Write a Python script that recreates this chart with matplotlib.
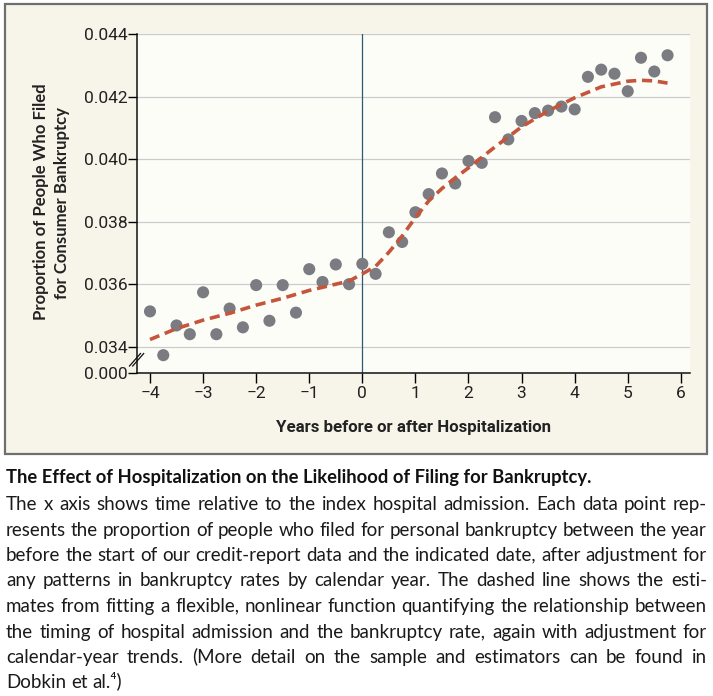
import numpy as np
import matplotlib
matplotlib.use("Agg")
import matplotlib.pyplot as plt
from matplotlib.lines import Line2D
from matplotlib.patches import Rectangle

# data
years = [-4.0, -3.75, -3.5, -3.25, -3.0, -2.75, -2.5, -2.25, -2.0, -1.75,
         -1.5, -1.25, -1.0, -0.75, -0.5, -0.25, 0.0, 0.25, 0.5, 0.75,
         1.0, 1.25, 1.5, 1.75, 2.0, 2.25, 2.5, 2.75, 3.0, 3.25,
         3.5, 3.75, 4.0, 4.25, 4.5, 4.75, 5.0, 5.25, 5.5, 5.75]
share_filed = [0.03513, 0.03373, 0.03468, 0.03440, 0.03574, 0.03440, 0.03522, 0.03462, 0.03597, 0.03483,
               0.03597, 0.03509, 0.03648, 0.03607, 0.03663, 0.03600, 0.03665, 0.03633, 0.03766, 0.03735,
               0.03830, 0.03888, 0.03954, 0.03922, 0.03994, 0.03988, 0.04134, 0.04063, 0.04122, 0.04147,
               0.04155, 0.04168, 0.04159, 0.04263, 0.04286, 0.04273, 0.04217, 0.04324, 0.04280, 0.04332]

fit_years = [-4.0, -3.5, -3.0, -2.5, -2.0, -1.5, -1.0, -0.5, -0.25, 0.0, 0.25, 0.5, 0.75,
             1.0, 1.25, 1.5, 1.75, 2.0, 2.5, 3.0, 3.5, 4.0, 4.5, 5.0, 5.25, 5.5, 5.75]
fit_share = [0.03423, 0.03458, 0.03485, 0.03507, 0.03533, 0.03555, 0.03580, 0.03600, 0.03610, 0.03633,
             0.03657, 0.03702, 0.03754, 0.03813, 0.03866, 0.03906, 0.03940, 0.03972, 0.04039, 0.04103,
             0.04154, 0.04196, 0.04231, 0.04249, 0.04252, 0.04250, 0.04243]

y_ticks = [0.034, 0.036, 0.038, 0.040, 0.042, 0.044]
y_labels = ["0.034", "0.036", "0.038", "0.040", "0.042", "0.044"]
y_bottom = 0.03315          # broken axis, shown as 0.000
y_bottom_label = "0.000"
x_ticks = [-4, -3, -2, -1, 0, 1, 2, 3, 4, 5, 6]
x_labels = ["\u22124", "\u22123", "\u22122", "\u22121", "0", "1", "2", "3", "4", "5", "6"]

title = "The Effect of Hospitalization on the Likelihood of Filing for Bankruptcy."
body = [
    "The x axis shows time relative to the index hospital admission. Each data point rep-",
    "resents the proportion of people who filed for personal bankruptcy between the year",
    "before the start of our credit-report data and the indicated date, after adjustment for",
    "any patterns in bankruptcy rates by calendar year. The dashed line shows the esti-",
    "mates from fitting a flexible, nonlinear function quantifying the relationship between",
    "the timing of hospital admission and the bankruptcy rate, again with adjustment for",
    "calendar-year trends. (More detail on the sample and estimators can be found in",
    "Dobkin et al.\u2074)",
]

W, H = 713, 696
def px(x, y):
    return x / W, 1 - y / H

fig = plt.figure(figsize=(W / 100, H / 100), dpi=100)
fig.patch.set_facecolor("white")
renderer = fig.canvas.get_renderer()

# beige panel
fig.patches.append(Rectangle(px(5, 454), 702 / W, 450 / H, transform=fig.transFigure,
                             facecolor="#f7f5e9", edgecolor="#6e6e6e", lw=1.6, zorder=-1))

ax = fig.add_axes([137 / W, 1 - 373.3 / H, (690 - 137) / W, (373.3 - 34) / H])
ax.set_facecolor("#fdfdf8")
tick_font = ["Roboto", "DejaVu Sans"]

ax.set_xlim(-4.245, 6.173)
ax.set_ylim(y_bottom, 0.044)
ax.set_yticks([y_bottom] + y_ticks, labels=[y_bottom_label] + y_labels)
ax.set_xticks(x_ticks, labels=x_labels)
for lab in ax.get_xticklabels() + ax.get_yticklabels():
    lab.set_fontfamily(tick_font)
    lab.set_color("#222222")
ax.tick_params(axis="y", direction="out", length=6.5, width=1.0, labelsize=12.5, pad=0.5)
ax.tick_params(axis="x", direction="out", length=7, width=1.0, labelsize=12.5, pad=2)
ax.grid(axis="y", color="#cbcbcb", lw=0.9)
ax.set_axisbelow(True)
for side in ["top", "right"]:
    ax.spines[side].set_visible(False)
for side in ["left", "bottom"]:
    ax.spines[side].set_linewidth(1.1)
    ax.spines[side].set_color("#111111")

ax.axvline(0, color="#2c5a72", lw=0.9, zorder=2)
ax.scatter(years, share_filed, s=76, color="#7b7c81", edgecolors="none", zorder=3)
ax.plot(fit_years, fit_share, color="#c5553b", lw=2.6, dashes=(2.8, 1.6), zorder=4,
        solid_capstyle="butt", dash_capstyle="butt")

# axis break marks
for dx in [0, 3.2]:
    x0, y0 = px(129.5 + dx, 366)
    x1, y1 = px(140.5 + dx, 353.5)
    fig.add_artist(Line2D([x0, x1], [y0, y1], transform=fig.transFigure, color="#111111", lw=0.9))

def fit_text(x, y, s, length, size=12, rotated=False, **kw):
    t = fig.text(*px(x, y), s, fontsize=size, **kw)
    bb = t.get_window_extent(renderer)
    t.set_fontsize(size * length / (bb.height if rotated else bb.width))
    return t

# axis labels
bold_font = ["Lato", "DejaVu Sans"]
narrow_font = ["Liberation Sans Narrow", "Roboto", "DejaVu Sans"]
fit_text(413.5, 427.5, "Years before or after Hospitalization", 275, ha="center", va="center",
         fontweight="bold", family=narrow_font, color="#222222")
ylab = fit_text(41.5, 202, "Proportion of People Who Filed", 236, rotated=True, rotation=90,
                ha="center", va="center", fontweight="bold", family=bold_font, color="#222222")
fig.text(*px(62.5, 203), "for Consumer Bankruptcy", fontsize=ylab.get_fontsize(), rotation=90,
         ha="center", va="center", fontweight="bold", family=bold_font, color="#222222")

# caption
cap_font = ["Lato", "DejaVu Sans"]
fit_text(6, 483 - 0.49, title, 581, ha="left", va="baseline", fontweight="bold", family=cap_font,
         color="#111111")

def width_of(s, size):
    t = fig.text(0, 0, s, fontsize=size, family=cap_font)
    w = t.get_window_extent(renderer).width
    t.remove()
    return w

widest = max(width_of(s, 12) for s in body[:-1])
body_size = 12 * 700 / widest
space_w = width_of("a a", body_size) - width_of("aa", body_size)

# one text per word, justified between x=6 and x=707
for i, line in enumerate(body):
    # baseline just above a whole pixel keeps words on one row
    base = round(510 + 25.5 * i) - 0.49
    words = line.split(" ")
    texts = [fig.text(0, px(0, base)[1], w, fontsize=body_size, family=cap_font,
                      va="baseline", ha="left", color="#1a1a1a") for w in words]
    widths = [t.get_window_extent(renderer).width for t in texts]
    if i < len(body) - 1:
        gap = (707 - 6 - sum(widths)) / (len(words) - 1)
    else:
        gap = space_w
    x = 6
    for t, w in zip(texts, widths):
        t.set_x(x / W)
        x += w + gap

fig.savefig("out.png", dpi=100)
